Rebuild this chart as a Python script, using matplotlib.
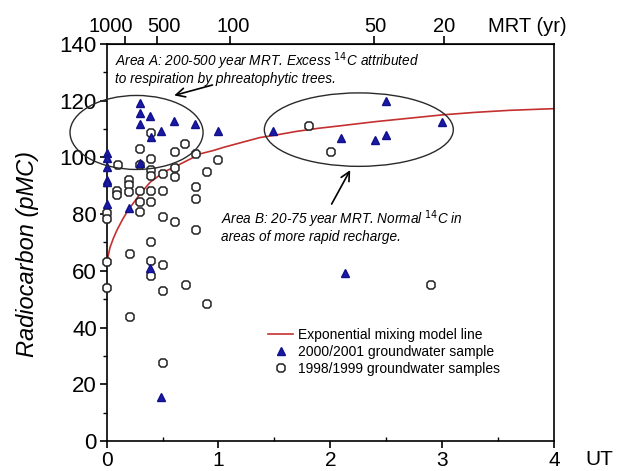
import matplotlib.pyplot as plt
from matplotlib.patches import Ellipse

# --- data ---
# 2000/2001 groundwater samples (blue triangles)
ut_2000 = [0.30, 0.30, 0.39, 0.30, 0.60, 0.79, 1.00, 0.49, 0.40, 0.30,
           0.0, 0.0, 0.0, 0.0, 0.0, 0.0, 0.20, 0.39, 0.49,
           1.49, 2.10, 2.40, 2.50, 2.50, 3.00, 2.13]
c14_2000 = [119.3, 115.5, 114.6, 111.9, 112.8, 111.9, 109.3, 109.3, 107.2, 98.0,
            101.5, 99.8, 96.6, 92.0, 91.2, 83.5, 82.1, 61.0, 15.5,
            109.3, 107.0, 106.0, 108.0, 119.9, 112.5, 59.4]

# 1998/1999 groundwater samples (open circles)
ut_1998 = [0.0, 0.0, 0.0, 0.0,
           0.10, 0.09, 0.09,
           0.20, 0.20, 0.20, 0.21, 0.21,
           0.30, 0.30, 0.30, 0.30, 0.30,
           0.40, 0.40, 0.40, 0.40, 0.40, 0.40, 0.40, 0.40, 0.40,
           0.50, 0.50, 0.50, 0.50, 0.50, 0.50,
           0.61, 0.61, 0.61, 0.61,
           0.70, 0.71,
           0.80, 0.80, 0.80, 0.80,
           0.90, 0.90, 1.00,
           1.81, 2.01, 2.90]
c14_1998 = [80.5, 78.3, 63.0, 54.0,
            97.2, 88.3, 86.6,
            91.9, 90.1, 87.7, 66.0, 43.6,
            102.8, 97.5, 88.3, 84.2, 80.7,
            108.7, 99.3, 95.4, 93.6, 88.3, 84.2, 70.1, 63.6, 58.3,
            94.2, 88.3, 78.9, 62.2, 53.0, 27.5,
            101.9, 96.4, 93.0, 77.1,
            104.8, 55.0,
            101.3, 89.5, 85.4, 74.5,
            94.8, 48.3, 99.0,
            111.0, 101.9, 55.0]

# exponential mixing model line
ut_model = [0.0, 0.03, 0.06, 0.09, 0.14, 0.19, 0.25, 0.30, 0.39, 0.47, 0.54,
            0.62, 0.69, 0.77, 0.84, 0.95, 1.05, 1.2, 1.37, 1.5, 1.7, 1.9,
            2.1, 2.4, 2.7, 3.0, 3.3, 3.6, 4.0]
c14_model = [63.0, 68.3, 71.5, 74.2, 78.0, 81.3, 84.5, 87.2, 91.3, 93.6, 95.4,
             96.9, 98.3, 99.9, 101.3, 102.4, 103.6, 105.2, 107.0, 107.8, 109.2, 110.3,
             111.2, 112.6, 113.8, 115.0, 115.9, 116.6, 117.2]

# top axis: mean residence time (tick positions, and where the labels sit)
mrt_ticks = [0.16, 0.45, 1.10, 2.39, 3.02]
mrt_label_x = [0.04, 0.51, 1.13, 2.40, 3.02]
mrt_labels = ["1000", "500", "100", "50", "20"]

yticks = [0, 20, 40, 60, 80, 100, 120, 140]
xticks = [0, 1, 2, 3, 4]

plt.rcParams['font.family'] = ['Liberation Sans', 'DejaVu Sans']

fig = plt.figure(figsize=(6.21, 4.71), dpi=100)
ax = fig.add_axes([0.1718, 0.0637, 0.7202, 0.8429])

ax.plot(ut_model, c14_model, color="#c43030", lw=1.2, zorder=2,
        label="Exponential mixing model line")
ax.plot(ut_2000, c14_2000, ls="none", marker="^", ms=6, color="#1a1aa6",
        mec="#10108a", zorder=4, clip_on=False, label="2000/2001 groundwater sample")
ax.plot(ut_1998, c14_1998, ls="none", marker="8", ms=6, mfc="white",
        mec="#222222", mew=1.1, zorder=3, clip_on=False,
        label="1998/1999 groundwater samples")

# ellipses around the two areas
ax.add_patch(Ellipse((0.267, 108.8), 1.19, 26.1, fill=False, ec="#2a2a2a",
                     lw=1.0, clip_on=False, zorder=5))
ax.add_patch(Ellipse((2.255, 109.8), 1.69, 25.9, fill=False, ec="#2a2a2a",
                     lw=1.0, clip_on=False, zorder=5))

ax.annotate("", xy=(0.58, 121.6), xytext=(0.97, 125.8),
            arrowprops=dict(arrowstyle="->", color="black", lw=1.2, mutation_scale=16))
ax.annotate("", xy=(2.19, 96.4), xytext=(2.0, 82.7),
            arrowprops=dict(arrowstyle="->", color="black", lw=1.2, mutation_scale=16))

ax.text(0.07, 137.8, "Area A: 200-500 year MRT. Excess $^{14}$C attributed\n"
        "to respiration by phreatophytic trees.", fontsize=9.8, style="italic",
        va="top", ha="left", linespacing=1.05)
ax.text(1.02, 82.0, "Area B: 20-75 year MRT. Normal $^{14}$C in\n"
        "areas of more rapid recharge.", fontsize=9.8, style="italic",
        va="top", ha="left", linespacing=1.0)

ax.set_xlim(0, 4)
ax.set_ylim(0, 140)
ax.set_xticks(xticks)
ax.set_xticks([0.5, 1.5, 2.5, 3.5], minor=True)
ax.set_yticks(yticks)
ax.set_yticks([10, 30, 50, 70, 90, 110, 130], minor=True)
ax.tick_params(length=5, width=1.2, direction="out")
ax.tick_params(axis="y", labelsize=16, pad=2)
ax.tick_params(axis="x", labelsize=15, pad=2)
ax.tick_params(axis="y", which="minor", length=3, width=1)
ax.tick_params(axis="x", which="minor", length=3, width=1, direction="in")
for s in ax.spines.values():
    s.set_linewidth(1.2)

ax.set_ylabel("Radiocarbon (pMC)", fontsize=17, style="italic")
ax.yaxis.set_label_coords(-0.152, 0.47)
ax.text(4.41, -8.6, "UT", fontsize=15, ha="center", va="baseline", clip_on=False)

top = ax.secondary_xaxis("top")
top.set_xticks(mrt_ticks)
top.set_xticklabels([])
top.tick_params(length=6, width=1.2)
for x, lab in zip(mrt_label_x, mrt_labels):
    ax.text(x, 144.2, lab, fontsize=14.5, ha="center", va="baseline", clip_on=False)
ax.text(3.76, 144.2, "MRT (yr)", fontsize=14.5, ha="center", va="baseline", clip_on=False)

leg = ax.legend(loc="upper left", bbox_to_anchor=(0.34, 0.31), frameon=False,
                fontsize=10, handlelength=1.8, handletextpad=0.36,
                labelspacing=0.23, borderpad=0.2)

fig.savefig("out.png", dpi=100)
